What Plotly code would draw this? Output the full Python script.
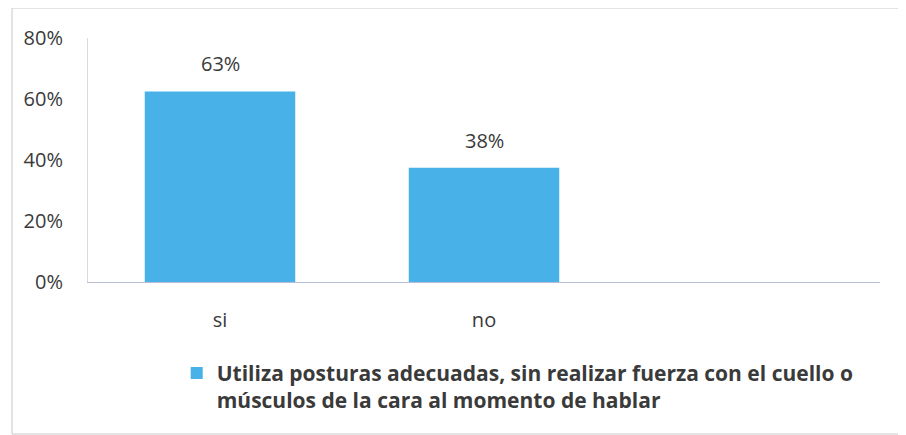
import plotly.graph_objects as go

categories = ["si", "no", ""]
values = [0.625, 0.375, None]
value_labels = ["63%", "38%", ""]
series_name = "Utiliza posturas adecuadas, sin realizar fuerza con el cuello o<br>músculos de la cara al momento de hablar"
y_ticks = [0, 0.2, 0.4, 0.6, 0.8]
y_tick_labels = ["0%", "20%", "40%", "60%", "80%"]

BAR = "#47b1e8"
TXT = "#3a3a3a"
FONT = "Open Sans"

fig = go.Figure()
fig.add_trace(go.Bar(
    x=categories, y=values, name=series_name,
    marker=dict(color=BAR, line=dict(width=0)),
    width=0.57,
    showlegend=True,
))

for c, v, t in zip(categories, values, value_labels):
    if v is None:
        continue
    fig.add_annotation(x=c, y=v, text=t, showarrow=False, yanchor="bottom",
                       yshift=12, font=dict(family=FONT, size=20, color=TXT))

fig.update_layout(
    width=906, height=435,
    margin=dict(l=80, r=34, t=30, b=161),
    paper_bgcolor="white", plot_bgcolor="white",
    font=dict(family=FONT, size=20, color=TXT),
    showlegend=True,
    legend=dict(
        orientation="h", x=0.112, xanchor="left", y=-0.29, yanchor="top",
        valign="top",
        font=dict(family=FONT, size=21, color=TXT, weight="bold"),
        itemwidth=30,
    ),
    xaxis=dict(
        type="category", categoryorder="array", categoryarray=categories,
        range=[-0.5, 2.5], showgrid=False,
        showline=True, linecolor="#b8bfd4", linewidth=1,
        ticks="", ticklabelstandoff=20,
        tickfont=dict(family=FONT, size=20, color=TXT),
        fixedrange=True,
    ),
    yaxis=dict(
        range=[0, 0.8], tickvals=y_ticks, ticktext=y_tick_labels,
        showgrid=False, zeroline=False,
        showline=True, linecolor="#d6d9e2", linewidth=1,
        ticks="", ticklabelstandoff=20,
        tickfont=dict(family=FONT, size=20, color=TXT),
    ),
    shapes=[dict(type="rect", xref="paper", yref="paper",
                 x0=(12 - 88) / 792, x1=(904 - 88) / 792,
                 y0=(282 - 434) / 244, y1=1 + (38 - 8) / 244,
                 line=dict(color="#c8c8c8", width=1), layer="below")],
)

fig.write_html("out.html")
